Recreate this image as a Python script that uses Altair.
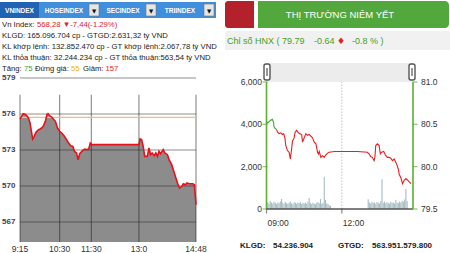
import altair as alt
import pandas as pd

FONT = "Liberation Sans"

# ---------------- VN-Index (left panel) ----------------
vn_min = [0, 3, 6, 11, 16, 19, 22, 24, 27, 30, 35, 38, 41, 44, 48, 51, 53, 56, 60, 63,
          67, 71, 75, 79, 84, 88, 92, 96, 100, 103, 107, 110, 113, 117, 122, 126, 130, 133, 136, 225,
          227, 230, 233, 236, 241, 244, 247, 250, 254, 257, 260, 263, 266, 271, 274, 279, 282, 287, 290, 293,
          296, 299, 302, 306, 309, 313, 316, 320, 327, 330, 333]
vn_val = [575.58, 575.81, 576.03, 575.94, 575.67, 575.25, 574.42, 573.92, 574.14, 574.47,
          574.69, 574.75, 574.83, 574.97, 575.39, 575.94, 576.03, 575.86, 575.75, 575.58,
          575.39, 574.83, 574.56, 574.42, 574.14, 573.86, 573.58, 573.36, 573.31, 572.89,
          572.75, 572.19, 572.69, 572.89, 573.08, 573.03, 573.08, 573.58, 573.45, 573.45,
          573.92, 573.86, 573.31, 572.47, 572.47, 573.17, 572.61, 572.75, 572.53, 572.75,
          572.47, 572.89, 572.69, 573.03, 572.75, 572.61, 572.19, 571.78, 571.36, 570.94,
          570.53, 570.11, 569.83, 569.97, 570.19, 570.11, 570.25, 570.19, 570.19, 570.11, 568.44]
vn_ref = 575.72
vn_tick_min = [0, 75, 135, 225, 333]
vn_tick_lab = ["9:15", "10:30", "11:30", "13:0", "14:48"]
vn_levels = [567, 570, 573, 576, 579]
VN_BASE = 565.33
VN_TOP = 577.6

# ---------------- HNX (right panel) ----------------
hnx_min = [0, 2, 6, 10, 14, 17, 18, 21, 24, 26, 30, 34, 38, 41, 44, 46, 50, 54, 57, 60,
           62, 66, 68, 72, 76, 80, 84, 86, 90, 94, 98, 102, 106, 110, 114, 118, 122, 124, 126, 130,
           134, 138, 142, 146, 150, 162, 201, 217, 241, 245, 249, 253, 257, 259, 261, 265, 269, 272, 275, 280,
           285, 289, 293, 297, 301, 305, 309, 311, 315, 317, 321, 325, 329, 333, 337, 341, 345]
hnx_val = [80.50, 80.52, 80.53, 80.55, 80.56, 80.52, 80.47, 80.45, 80.44, 80.41,
           80.39, 80.40, 80.38, 80.39, 80.34, 80.25, 80.19, 80.17, 80.09, 80.21,
           80.30, 80.34, 80.40, 80.43, 80.40, 80.39, 80.38, 80.29, 80.34, 80.39,
           80.37, 80.38, 80.36, 80.34, 80.29, 80.27, 80.17, 80.15, 80.18, 80.11,
           80.13, 80.11, 80.14, 80.16, 80.17, 80.18, 80.18, 80.18, 80.17, 80.15,
           80.12, 80.11, 80.07, 80.11, 80.25, 80.27, 80.25, 80.15, 80.17, 80.18,
           80.13, 80.11, 80.11, 80.10, 80.07, 80.09, 80.05, 80.03, 79.97, 79.91,
           79.87, 79.80, 79.84, 79.86, 79.84, 79.82, 79.80]
GREEN_UNTIL = 8
vol_min = [0, 3, 6, 9, 12, 15, 18, 21, 24, 27, 30, 33, 36, 39, 42, 45, 48, 51, 54, 57,
           60, 63, 66, 69, 72, 75, 78, 81, 84, 87, 90, 93, 96, 99, 102, 105, 108, 111, 114, 117,
           120, 123, 126, 129, 132, 135, 138, 141, 144, 147, 150, 153,
           243, 246, 249, 252, 255, 258, 261, 264, 267, 270, 273, 276, 279, 282, 285, 288,
           291, 294, 297, 300, 303, 306, 309, 312, 315, 318, 321, 324, 327, 330, 333, 336]
vol_val = [280, 320, 250, 380, 300, 260, 340, 290, 230, 310, 270, 360, 470, 300, 250, 330, 280, 240, 300, 360,
           270, 230, 320, 290, 250, 310, 270, 330, 240, 290, 260, 300, 250, 340, 520, 280, 240, 300, 260, 230,
           290, 330, 270, 470, 250, 280, 1520, 430, 260, 220, 180, 150,
           460, 300, 260, 340, 280, 310, 250, 330, 290, 260, 380, 1400, 300, 350, 270, 320,
           280, 250, 340, 290, 310, 260, 430, 300, 280, 350, 300, 390, 340, 450, 940, 380]
hnx_span = [0, 350]
hnx_xticks = [0, 180]
hnx_xlabs = ["09:00", "12:00"]
hnx_pticks = [79.5, 80.0, 80.5, 81.0]
hnx_vticks = [0, 2000, 4000, 6000]

one = pd.DataFrame({"k": [0]})
PW, PH = 225, 253
GREEN_AX = "#5cb032"


def txt(s, x, y, color="#222222", size=7.7, weight="normal", align="left", font=FONT):
    return alt.Chart(one).mark_text(align=align, baseline="middle", font=font,
                                    fontSize=size, fontWeight=weight, color=color).encode(
        x=alt.value(x), y=alt.value(y), text=alt.value(s))


def box(x, x2, y, y2, fill, **kw):
    return alt.Chart(one).mark_rect(fill=fill, **kw).encode(
        x=alt.value(x), x2=alt.value(x2), y=alt.value(y), y2=alt.value(y2))


# ================= LEFT PANEL =================
L = [box(0, PW, 0, PH, "#ffffff")]
L.append(box(0, 216, 2, 18, "#3f8fdc"))
L.append(box(0, 39, 2, 18, "#2262b2"))
for x0, x1 in [(89, 99), (146, 156), (204, 214)]:
    L.append(box(x0, x1, 4, 16, "#e6e6e6", stroke="#777777", strokeWidth=0.6))
    L.append(txt("▼", (x0 + x1) / 2, 10.5, "#111111", 5.5, align="center", font="DejaVu Sans"))
for s, xc in [("VNINDEX", 19.5), ("HOSEINDEX", 64), ("SECINDEX", 123), ("TRIINDEX", 180)]:
    L.append(txt(s, xc, 10.5, "#ffffff", 6.5, "bold", "center"))

L.append(txt("Vn Index:", 2, 25))
L.append(txt("568,28 ▼-7,44(-1.29%)", 37, 25, "#e2222a"))
L.append(txt("KLGD: 165.096.704 cp - GTGD:2.631,32 tỷ VND", 2, 36))
L.append(txt("KL khớp lệnh: 132.852.470 cp - GT khớp lệnh:2.067,78 tỷ VND", 2, 47))
L.append(txt("KL thỏa thuận: 32.244.234 cp - GT thỏa thuận:563,54 tỷ VND", 2, 58))
L.append(txt("Tăng:", 2, 69))
L.append(txt("75", 24, 69, "#3aa03a"))
L.append(txt("Đứng giá:", 35, 69))
L.append(txt("55", 71, 69, "#f0b400"))
L.append(txt("Giảm:", 83, 69))
L.append(txt("157", 105.5, 69, "#e2222a"))

vn = pd.DataFrame({"m": vn_min, "v": vn_val})
vn["base"] = VN_BASE
vt = pd.DataFrame({"m": vn_tick_min, "lab": vn_tick_lab})
vt["lo"] = VN_BASE
vt["hi"] = VN_TOP
vl = pd.DataFrame({"v": vn_levels, "lab": [str(v) for v in vn_levels]})
vl["m0"] = vn_tick_min[0]
vl["m1"] = vn_tick_min[-1]
vr = pd.DataFrame({"v": [vn_ref], "m0": [vn_tick_min[0]], "m1": [vn_tick_min[-1]]})
LX = alt.Scale(domain=[0, 333], range=[20, 196], nice=False, zero=False)
LY = alt.Scale(domain=[567, 576], range=[222, 114], nice=False, zero=False)


def lx(f):
    return alt.X(f, scale=LX, axis=None)


def ly(f):
    return alt.Y(f, scale=LY, axis=None)


L.append(alt.Chart(vn).mark_area(color="#8c8c8c").encode(x=lx("m:Q"), y=ly("v:Q"), y2="base:Q"))
L.append(alt.Chart(vl).mark_rule(color="#222222", opacity=0.5, strokeWidth=1.2).encode(
    y=ly("v:Q"), x=lx("m0:Q"), x2="m1:Q"))
L.append(alt.Chart(vt).mark_rule(color="#222222", opacity=0.5, strokeWidth=1.2).encode(
    x=lx("m:Q"), y=ly("lo:Q"), y2="hi:Q"))
L.append(alt.Chart(vr).mark_rule(color="#f0c070", strokeWidth=1.2).encode(
    y=ly("v:Q"), x=lx("m0:Q"), x2="m1:Q"))
L.append(alt.Chart(vn).mark_line(color="#e8101a", strokeWidth=1.6).encode(x=lx("m:Q"), y=ly("v:Q")))
L.append(alt.Chart(vl).mark_text(align="left", baseline="middle", font=FONT, fontSize=8,
                                 fontWeight="bold", color="#444444").encode(
    x=alt.value(2), y=ly("v:Q"), text="lab:N"))
L.append(alt.Chart(vt).mark_text(align="center", baseline="middle", font=FONT, fontSize=8.5,
                                 color="#333333").encode(
    x=lx("m:Q"), y=alt.value(249), text="lab:N"))

left = alt.layer(*L).properties(width=PW, height=PH)

# ================= RIGHT PANEL =================
R = [box(0, PW, 0, PH, "#ffffff")]
R.append(box(0, 31, 1, 28, "#b3222a", cornerRadius=3))
R.append(box(29, 224, 1, 28, "#52a83c", cornerRadius=4))
R.append(box(29, 33, 0, 29, "#ffffff"))
R.append(txt("THỊ TRƯỜNG NIÊM YẾT", 115, 15, "#ffffff", 9.5, align="center"))
R.append(box(0, PW, 31, 50, "#f1f1f1"))
R.append(txt("Chỉ số HNX ( 79.79", 2, 41, "#46a020", 9))
R.append(txt("-0.64", 89, 41, "#46a020", 9))
R.append(txt("♦", 112, 41, "#e2222a", 9, font="DejaVu Sans"))
R.append(txt("-0.8 % )", 127, 41, "#46a020", 9))
R.append(box(41, 188, 63, 82, "#ececec"))
for hxp in [42, 187]:
    R.append(box(hxp - 3, hxp + 3, 64, 80, "#ffffff", stroke="#555555", strokeWidth=1.4, cornerRadius=2))
    R.append(box(hxp - 0.6, hxp + 0.6, 68, 76, "#555555"))
R.append(txt("KLGD:", 15, 246, "#222222", 8, "bold"))
R.append(txt("54.236.904", 48, 246, "#222222", 8, "bold"))
R.append(txt("GTGD:", 113, 246, "#222222", 8, "bold"))
R.append(txt("563.951.579.800", 147, 246, "#222222", 8, "bold"))

RX = alt.Scale(domain=hnx_span, range=[41.5, 188], nice=False, zero=False)
RP = alt.Scale(domain=[79.5, 81.0], range=[209, 82], nice=False, zero=False)
RV = alt.Scale(domain=[0, 6000], range=[209, 82], nice=False)


def rx(f):
    return alt.X(f, scale=RX, axis=None)


def rv(f):
    return alt.Y(f, scale=RV, axis=None)


def rp(f):
    return alt.Y(f, scale=RP, axis=None)


vol = pd.DataFrame({"m": vol_min, "vol": vol_val})
vol["zero"] = 0
dot = pd.DataFrame({"m": [hnx_xticks[1]], "lo": [hnx_vticks[0]], "hi": [hnx_vticks[-1]]})
vax = pd.DataFrame({"m": [hnx_span[0]], "lo": [hnx_vticks[0]], "hi": [hnx_vticks[-1]]})
vtk = pd.DataFrame({"m": hnx_span[0], "vol": hnx_vticks, "lab": [f"{v:,}" for v in hnx_vticks]})
xax = pd.DataFrame({"m0": [hnx_span[0]], "m1": [hnx_span[1]], "vol": [0]})
xtk = pd.DataFrame({"m": hnx_xticks, "lab": hnx_xlabs, "vol": 0})

V = [
    alt.Chart(dot).mark_rule(color="#c4c4c4", strokeDash=[1.5, 1.5], strokeWidth=1).encode(
        x=rx("m:Q"), y=rv("lo:Q"), y2="hi:Q"),
    alt.Chart(vol).mark_rule(color="#a6bdc2", strokeWidth=1.1).encode(
        x=rx("m:Q"), y=rv("vol:Q"), y2="zero:Q"),
    alt.Chart(vax).mark_rule(color=GREEN_AX, strokeWidth=1.6).encode(
        x=rx("m:Q"), y=rv("lo:Q"), y2="hi:Q"),
    alt.Chart(vtk).mark_tick(color=GREEN_AX, orient="horizontal", size=5, thickness=1.2, xOffset=-1.5).encode(
        x=rx("m:Q"), y=rv("vol:Q")),
    alt.Chart(vtk).mark_text(align="right", baseline="middle", font=FONT, fontSize=8.5,
                             color="#333333").encode(
        x=alt.value(37), y=rv("vol:Q"), text="lab:N"),
    alt.Chart(xax).mark_rule(color="#555555", strokeWidth=1.6).encode(
        x=rx("m0:Q"), x2="m1:Q", y=rv("vol:Q")),
    alt.Chart(xtk).mark_tick(color="#555555", orient="vertical", size=5, thickness=1.2, yOffset=2).encode(
        x=rx("m:Q"), y=rv("vol:Q")),
    alt.Chart(xtk).mark_text(align="left", baseline="middle", font=FONT, fontSize=8.5,
                             color="#333333", dx=1).encode(
        x=rx("m:Q"), y=alt.value(223), text="lab:N"),
]
vol_group = alt.layer(*V)

hx = pd.DataFrame({"m": hnx_min, "p": hnx_val})
pax = pd.DataFrame({"m": [hnx_span[1]], "lo": [hnx_pticks[0]], "hi": [hnx_pticks[-1]]})
ptk = pd.DataFrame({"m": hnx_span[1], "p": hnx_pticks, "lab": [f"{v:.1f}" for v in hnx_pticks]})
P = [
    alt.Chart(hx.iloc[GREEN_UNTIL:]).mark_line(color="#ee1c1c", strokeWidth=1.1).encode(
        x=rx("m:Q"), y=rp("p:Q")),
    alt.Chart(hx.iloc[:GREEN_UNTIL + 1]).mark_line(color="#3cab2c", strokeWidth=1.1).encode(
        x=rx("m:Q"), y=rp("p:Q")),
    alt.Chart(pax).mark_rule(color=GREEN_AX, strokeWidth=1.6).encode(
        x=rx("m:Q"), y=rp("lo:Q"), y2="hi:Q"),
    alt.Chart(ptk).mark_tick(color=GREEN_AX, orient="horizontal", size=5, thickness=1.2, xOffset=2).encode(
        x=rx("m:Q"), y=rp("p:Q")),
    alt.Chart(ptk).mark_text(align="left", baseline="middle", font=FONT, fontSize=8.5,
                             color="#333333").encode(
        x=alt.value(196), y=rp("p:Q"), text="lab:N"),
]
price_group = alt.layer(*P)

plots = alt.layer(vol_group, price_group).resolve_scale(y="independent")
right = alt.layer(*R, plots).properties(width=PW, height=PH)

chart = alt.hconcat(left, right, spacing=0, bounds="flush").properties(
    padding=0, background="white").configure_view(stroke=None)

chart.save("out.html", embed_options={"renderer": "svg", "actions": False})
